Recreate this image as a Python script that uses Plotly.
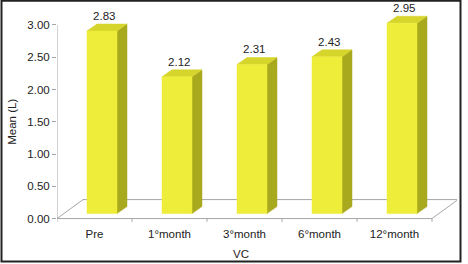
import plotly.graph_objects as go

categories = ["Pre", "1°month", "3°month", "6°month", "12°month"]
values = [2.83, 2.12, 2.31, 2.43, 2.95]
y_ticks = [0, 0.5, 1.0, 1.5, 2.0, 2.5, 3.0]
y_tick_labels = ["0.00", "0.50", "1.00", "1.50", "2.00", "2.50", "3.00"]
x_title = "VC"
y_title = "Mean (L)"

# 3D geometry (in axis units)
FLOOR_DX, FLOOR_DY = 0.347, 0.294
SX, SY = 0.1, 0.077
BW = 0.4
BDX, BDY = 0.133, 0.108

FRONT = "#EDED3A"
SIDE = "#A9A91E"
TOP = "#D5D52C"
GRID = "#A6A6A6"
FONT = "Liberation Sans, Arial, sans-serif"
FS = 11.5

n = len(categories)
x0, x1 = -0.5, n - 0.5

fig = go.Figure()

# floor and axes lines
fig.add_trace(go.Scatter(
    x=[x0, x0 + FLOOR_DX, x1 + FLOOR_DX, x1],
    y=[0, FLOOR_DY, FLOOR_DY, 0],
    mode="lines", line=dict(color=GRID, width=1), hoverinfo="skip"))
fig.add_trace(go.Scatter(
    x=[x0, x1], y=[0, 0], mode="lines",
    line=dict(color=GRID, width=1), hoverinfo="skip"))
fig.add_trace(go.Scatter(
    x=[x0, x0], y=[0, y_ticks[-1]], mode="lines",
    line=dict(color=GRID, width=1), hoverinfo="skip"))
tx, ty = [], []
for k in range(n + 1):
    tx += [x0 + k, x0 + k, None]
    ty += [0, -0.05, None]
fig.add_trace(go.Scatter(x=tx, y=ty, mode="lines",
                         line=dict(color=GRID, width=1), hoverinfo="skip"))

fx, fy, sx_, sy_, tpx, tpy = [], [], [], [], [], []
for i, v in enumerate(values):
    xl = i - BW / 2 + SX
    xr = i + BW / 2 + SX
    b = SY
    t = v + SY
    fx += [xl, xr, xr, xl, xl, None]
    fy += [b, b, t, t, b, None]
    sx_ += [xr, xr + BDX, xr + BDX, xr, xr, None]
    sy_ += [b, b + BDY, t + BDY, t, b, None]
    tpx += [xl, xr, xr + BDX, xl + BDX, xl, None]
    tpy += [t, t, t + BDY, t + BDY, t, None]

for xs, ys, c in [(sx_, sy_, SIDE), (tpx, tpy, TOP), (fx, fy, FRONT)]:
    fig.add_trace(go.Scatter(x=xs, y=ys, mode="lines", fill="toself",
                             fillcolor=c, line=dict(color=c, width=0.5),
                             hoverinfo="skip"))

fig.add_trace(go.Scatter(
    x=[i + SX + 0.03 for i in range(n)],
    y=[v + SY + 2 * BDY for v in values],
    mode="text", text=[f"{v:.2f}" for v in values],
    textposition="middle center", cliponaxis=False,
    textfont=dict(family=FONT, size=FS, color="#222222"), hoverinfo="skip"))

fig.update_layout(
    width=468, height=264,
    margin=dict(l=57, r=11, t=6, b=38.5),
    paper_bgcolor="white", plot_bgcolor="white",
    showlegend=False,
    font=dict(family=FONT, size=FS, color="#222222"),
    xaxis=dict(range=[x0, x1 + 0.3333], tickvals=list(range(n)),
               ticktext=categories, showgrid=False, zeroline=False,
               showline=False, ticks="", tickfont=dict(size=FS)),
    yaxis=dict(range=[-0.1, 3.294], tickvals=y_ticks, ticktext=y_tick_labels,
               showgrid=False, zeroline=False, showline=False,
               ticks="outside", ticklen=4, tickcolor=GRID,
               tickfont=dict(size=FS)),
    annotations=[
        dict(text=x_title, xref="x", yref="paper", x=1.95,
             y=(225.5 - 255) / 219.5,
             xanchor="center", yanchor="middle", showarrow=False,
             font=dict(size=FS)),
        dict(text=y_title, xref="paper", yref="y", x=-0.1125, y=1.5,
             xanchor="center", yanchor="middle", textangle=-90,
             showarrow=False, font=dict(size=FS)),
    ],
    shapes=[dict(type="rect", xref="paper", yref="paper",
                 x0=(1.5 - 57) / 400, x1=(460.5 - 57) / 400,
                 y0=(225.5 - 262) / 219.5, y1=(225.5 - 0.8) / 219.5,
                 line=dict(color="#222222", width=2))],
)

fig.write_html("out.html")
